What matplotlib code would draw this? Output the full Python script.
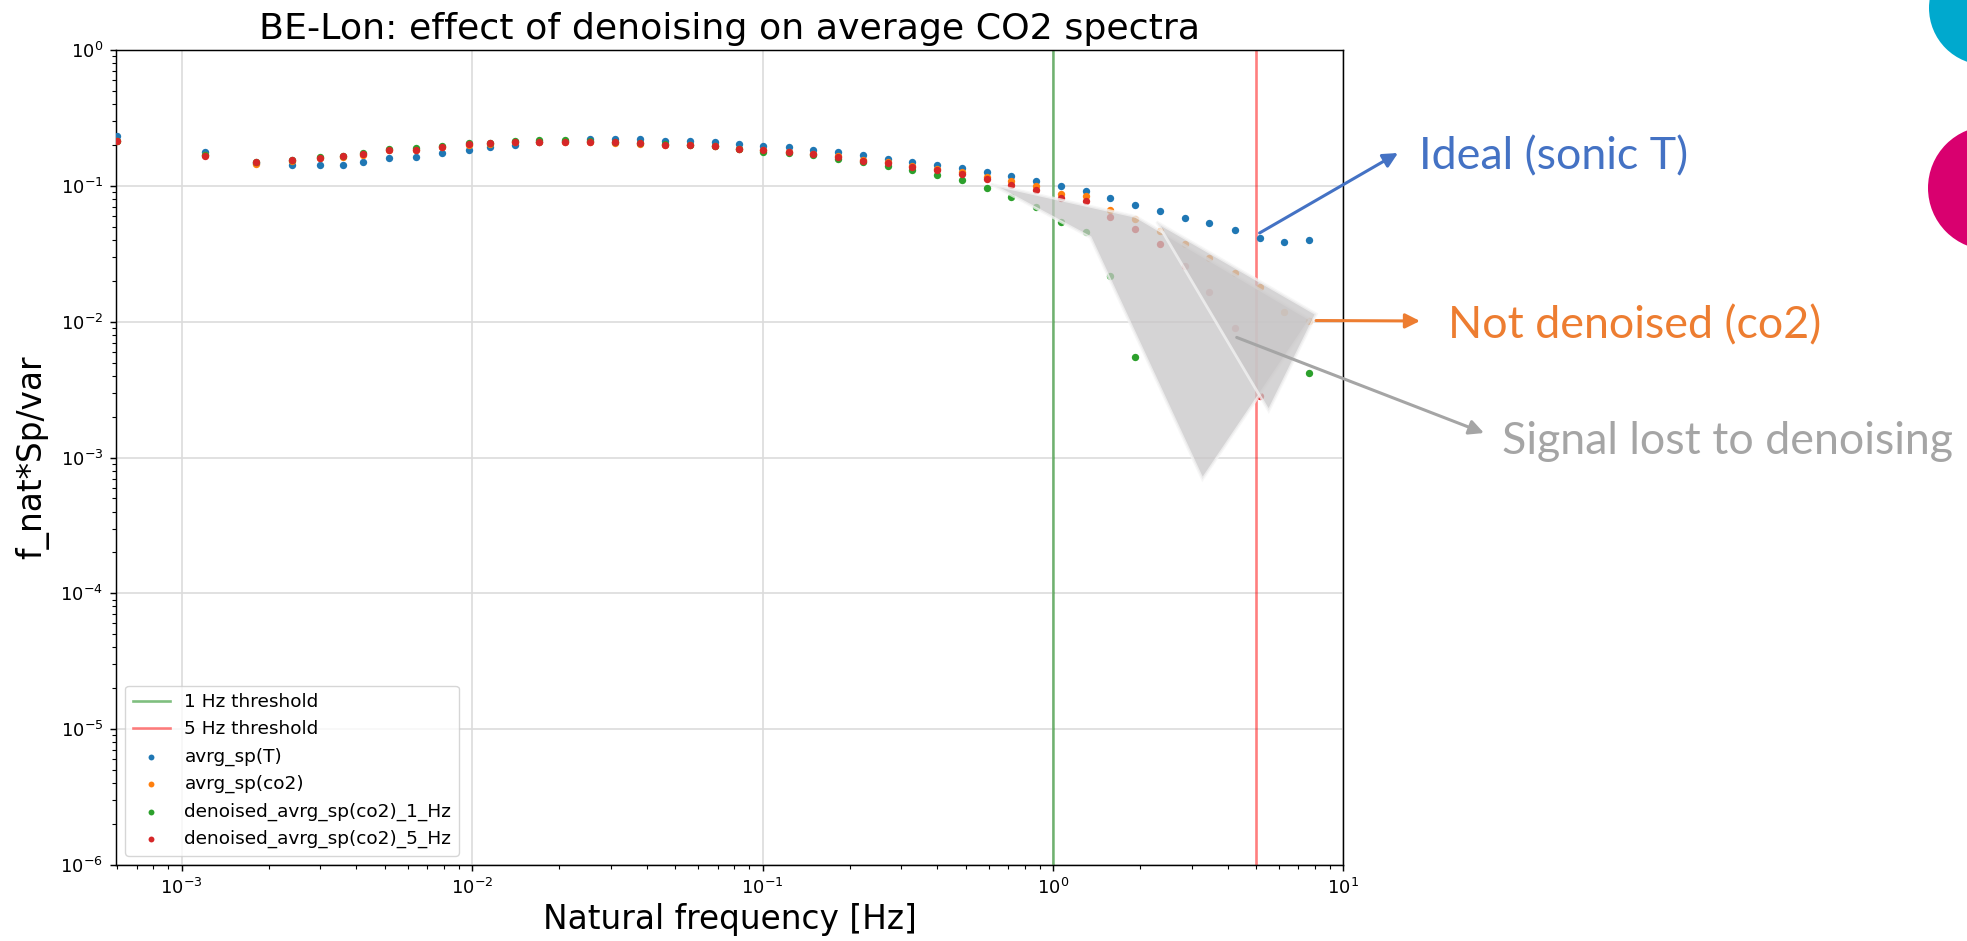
import matplotlib.pyplot as plt
from matplotlib.patches import Polygon, Circle, FancyArrowPatch
import numpy as np

nan = np.nan

# natural frequency bins [Hz]
freq = [6.0e-4, 1.2e-3, 1.8e-3, 2.4e-3, 3.0e-3, 3.6e-3, 4.2e-3, 5.16e-3, 6.40e-3,
        7.89e-3, 9.77e-3, 1.153e-2, 1.411e-2, 1.701e-2, 2.083e-2, 2.539e-2,
        3.097e-2, 3.776e-2, 4.618e-2, 5.614e-2, 6.855e-2, 8.27e-2, 0.1007,
        0.1231, 0.149, 0.1814, 0.2217, 0.2702, 0.3268, 0.3982, 0.4866, 0.5946,
        0.7174, 0.8766, 1.068, 1.301, 1.574, 1.918, 2.344, 2.856, 3.455, 4.223,
        5.144, 6.263, 7.585]

# f_nat*Sp/var for each spectrum
sp_T = [0.231, 0.179, 0.147, 0.143, 0.143, 0.143, 0.150, 0.160, 0.164, 0.175,
        0.183, 0.192, 0.201, 0.211, 0.215, 0.220, 0.220, 0.220, 0.215, 0.215,
        0.212, 0.203, 0.198, 0.194, 0.185, 0.177, 0.169, 0.158, 0.151, 0.142,
        0.135, 0.126, 0.118, 0.108, 0.0992, 0.0912, 0.0815, 0.0728, 0.0649,
        0.0581, 0.0533, 0.0474, 0.0414, 0.0388, 0.0397]
sp_co2 = [0.215, 0.168, 0.146, 0.152, 0.160, 0.164, 0.170, 0.183, 0.183, 0.193,
          0.200, 0.205, 0.210, 0.211, 0.211, 0.210, 0.207, 0.205, 0.200, 0.199,
          0.195, 0.187, 0.183, 0.179, 0.172, 0.165, 0.156, 0.150, 0.141, 0.134,
          0.126, 0.116, 0.108, 0.099, 0.0877, 0.0838, 0.0668, 0.0571, 0.0468,
          0.0375, 0.0293, 0.0228, 0.0179, 0.0117, 0.0101]
sp_dn1 = [0.215, 0.170, 0.149, 0.154, 0.163, 0.167, 0.176, 0.186, 0.190, 0.198,
          0.207, 0.208, 0.213, 0.218, 0.217, 0.214, 0.212, 0.208, 0.205, 0.201,
          0.196, 0.186, 0.178, 0.174, 0.168, 0.159, 0.150, 0.140, 0.131, 0.120,
          0.110, 0.0957, 0.0835, 0.070, 0.0542, 0.0455, 0.0217, 0.0055, nan,
          nan, nan, nan, nan, nan, 0.00421]
sp_dn5 = [0.215, 0.165, 0.149, 0.154, 0.161, 0.165, 0.172, 0.184, 0.184, 0.194,
          0.202, 0.206, 0.211, 0.211, 0.211, 0.211, 0.211, 0.206, 0.201, 0.201,
          0.196, 0.187, 0.183, 0.179, 0.171, 0.164, 0.153, 0.148, 0.137, 0.132,
          0.123, 0.113, 0.102, 0.094, 0.0819, 0.0775, 0.0594, 0.0484, 0.0371,
          0.0259, 0.0166, 0.0090, 0.00282, nan, nan]

# shaded "signal lost" shapes (data coords)
shade_big_x = [0.611, 1.93, 7.69, 3.27, 1.344]
shade_big_y = [0.103, 0.0595, 0.0104, 6.9e-4, 0.0417]
shade_small_x = [2.275, 8.07, 5.53]
shade_small_y = [0.0543, 0.0114, 0.0022]

fig = plt.figure(figsize=(19.67, 9.41), dpi=100)
ax = fig.add_axes([0.059, 0.0808, 0.624, 0.866])

ax.axvline(1, color='green', alpha=0.5, lw=1.9, label='1 Hz threshold')
ax.axvline(5, color='red', alpha=0.5, lw=1.9, label='5 Hz threshold')
ax.scatter(freq, sp_T, s=28, lw=0, color='tab:blue', label='avrg_sp(T)', zorder=3)
ax.scatter(freq, sp_co2, s=28, lw=0, color='tab:orange', label='avrg_sp(co2)', zorder=3)
ax.scatter(freq, sp_dn1, s=28, lw=0, color='tab:green', label='denoised_avrg_sp(co2)_1_Hz', zorder=3)
ax.scatter(freq, sp_dn5, s=28, lw=0, color='tab:red', label='denoised_avrg_sp(co2)_5_Hz', zorder=3)

ax.set_xscale('log')
ax.set_yscale('log')
ax.set_xlim(5.95e-4, 10)
ax.set_ylim(1e-6, 1)
ax.grid(True, which='major', color='#dcdcdc', lw=1.2)
ax.tick_params(which='major', labelsize=13, length=4.6, width=1.05, pad=4.6)
ax.tick_params(which='minor', length=2.6, width=0.8)
for s in ax.spines.values():
    s.set_linewidth(1.05)

ax.set_title('BE-Lon: effect of denoising on average CO2 spectra', fontsize=26.2, pad=8)
ax.set_xlabel('Natural frequency [Hz]', fontsize=23.6)
ax.set_ylabel('f_nat*Sp/var', fontsize=23.6, labelpad=8)
ax.legend(loc='lower left', fontsize=13.3, markerscale=0.8)

ax.add_patch(Polygon(list(zip(shade_big_x, shade_big_y)), closed=True,
                     facecolor='#c8c6c7', alpha=0.75, edgecolor='#f4f4f4', lw=2, zorder=4))
ax.add_patch(Polygon(list(zip(shade_small_x, shade_small_y)), closed=True,
                     facecolor='#c8c6c7', alpha=0.75, edgecolor='#f4f4f4', lw=2, zorder=4))

# slide annotations
W, H = 1967, 941


def to_fig(x, y):
    px = ax.transData.transform((x, y))
    return fig.transFigure.inverted().transform(px)


def pix(x, y):
    return (x / W, 1 - y / H)


arrows = [
    (to_fig(5.144, 0.045), pix(1398, 153), '#4472C4'),
    (to_fig(8.05, 0.0102), pix(1420, 321), '#ED7D31'),
    (to_fig(4.29, 0.00766), pix(1484, 433), '#A5A5A5'),
]
for tail, head, col in arrows:
    fig.add_artist(FancyArrowPatch(tail, head, transform=fig.transFigure,
                                   arrowstyle='-|>', mutation_scale=22, lw=2.2,
                                   color=col, shrinkA=0, shrinkB=0, zorder=6))

fig.text(1419 / W, 1 - 157 / H, 'Ideal (sonic T)', color='#4472C4',
         fontsize=32.2, family='Lato', va='center', ha='left')
fig.text(1448 / W, 1 - 326 / H, 'Not denoised (co2)', color='#ED7D31',
         fontsize=32.2, family='Lato', va='center', ha='left')
fig.text(1502 / W, 1 - 441 / H, 'Signal lost to denoising', color='#A5A5A5',
         fontsize=32.2, family='Lato', va='center', ha='left')

# decorative circles at the slide edge
fig.add_artist(Circle((19.86, 9.41 - 0.08), 0.57, transform=fig.dpi_scale_trans,
                      color='#00A9CE', lw=0))
fig.add_artist(Circle((19.90, 9.41 - 1.88), 0.62, transform=fig.dpi_scale_trans,
                      color='#D9006F', lw=0))

fig.savefig('out.png', dpi=100)
